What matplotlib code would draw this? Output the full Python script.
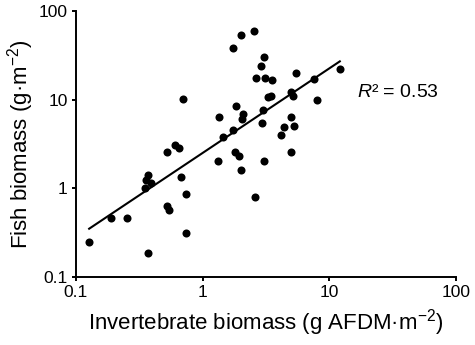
import matplotlib
matplotlib.use("Agg")
import matplotlib.pyplot as plt
import numpy as np

# Invertebrate biomass (g AFDM m-2) and fish biomass (g m-2)
invert_biomass = [0.127, 0.189, 0.251, 0.368, 0.349, 0.358, 0.372, 0.394, 0.527, 0.610,
                  0.647, 0.675, 0.743, 0.526, 0.545, 0.745, 0.695, 1.35, 1.82, 2.08,
                  2.04, 1.75, 1.46, 1.33, 1.81, 1.92, 1.99, 2.60, 2.98, 2.96,
                  3.25, 3.48, 4.98, 5.12, 4.95, 4.39, 5.24, 4.13, 4.98, 3.07,
                  1.72, 1.99, 2.52, 3.04, 2.90, 2.62, 3.12, 3.51, 5.50, 7.52,
                  12.1, 7.94]
fish_biomass = [0.248, 0.468, 0.464, 0.185, 1.02, 1.25, 1.43, 1.15, 2.56, 3.10,
                2.89, 1.35, 0.873, 0.639, 0.569, 0.313, 10.2, 6.35, 8.56, 6.91,
                6.10, 4.52, 3.79, 2.03, 2.60, 2.31, 1.62, 0.797, 7.71, 5.54,
                10.8, 11.2, 12.3, 11.1, 6.48, 4.91, 5.11, 4.02, 2.60, 2.03,
                39.0, 54.3, 60.5, 30.8, 24.2, 17.9, 17.9, 16.7, 20.2, 17.4,
                22.6, 9.90]

# log-log regression line as drawn: log10(y) = intercept + slope*log10(x)
fit_intercept = 0.4015
fit_slope = 0.955
r_squared = 0.53

ticks = [0.1, 1, 10, 100]
tick_labels = ["0.1", "1", "10", "100"]

plt.rcParams["font.family"] = ["Liberation Sans", "DejaVu Sans"]
plt.rcParams["mathtext.fontset"] = "custom"
plt.rcParams["mathtext.rm"] = "Liberation Sans"
plt.rcParams["mathtext.it"] = "Liberation Sans:italic"

fig = plt.figure(figsize=(4.75, 3.45), dpi=100)
ax = fig.add_axes([0.16, 0.197, 0.80, 0.77])

ax.plot(invert_biomass, fish_biomass, "o", color="black", markersize=5.8,
        markeredgewidth=0, zorder=3)

xs = np.array([min(invert_biomass), max(invert_biomass)])
ys = 10 ** (fit_intercept + fit_slope * np.log10(xs))
ax.plot(xs, ys, color="black", linewidth=1.5, zorder=2)

ax.set_xscale("log")
ax.set_yscale("log")
ax.set_xlim(0.1, 100)
ax.set_ylim(0.1, 100)
ax.set_xticks(ticks)
ax.set_xticklabels(tick_labels)
ax.set_yticks(ticks)
ax.set_yticklabels(tick_labels)
ax.minorticks_off()

for side in ["top", "right"]:
    ax.spines[side].set_visible(False)
for side in ["left", "bottom"]:
    ax.spines[side].set_linewidth(1.4)
ax.tick_params(direction="out", length=3, width=1.4, labelsize=12.5, pad=3)

ax.set_xlabel("Invertebrate biomass (g AFDM·m$^{-2}$)", fontsize=16, labelpad=5)
ax.set_ylabel("Fish biomass (g·m$^{-2}$)", fontsize=16, labelpad=2)

ax.text(0.739, 0.693, "$\\mathit{R}$² = %.2f" % r_squared, transform=ax.transAxes,
        ha="left", va="center", fontsize=14)

fig.savefig("out.png", dpi=100)
